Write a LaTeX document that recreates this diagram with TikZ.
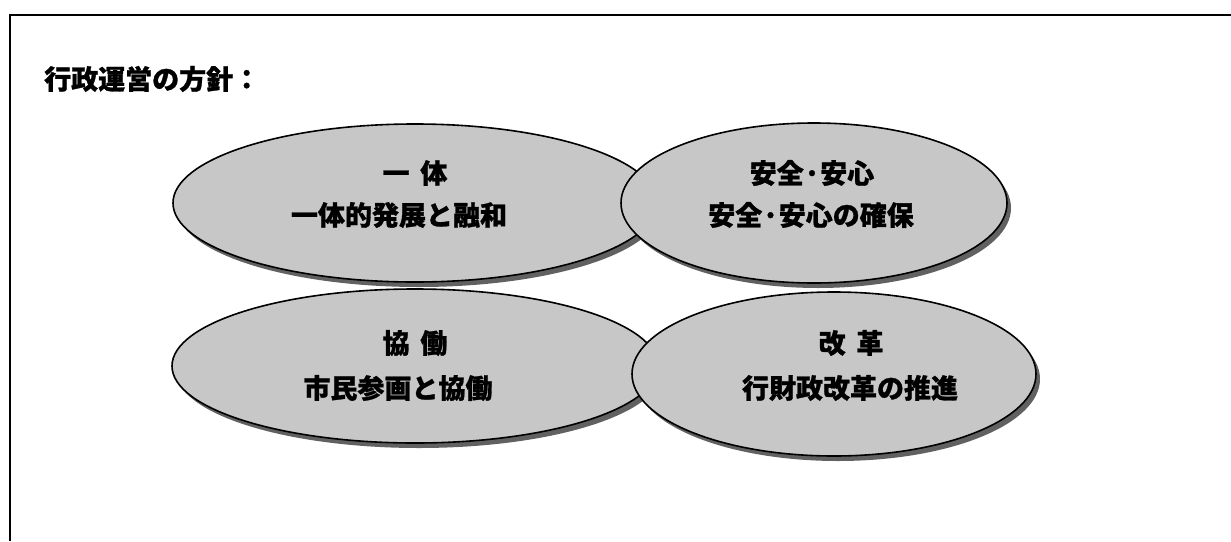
\documentclass[tikz,border=0pt]{standalone}
\usepackage{fontspec}
\newfontfamily\jp{Noto Sans CJK JP}[BoldFeatures={FakeBold=1}]
\usetikzlibrary{shapes.geometric}
\tikzset{
  ell/.style={ellipse, draw=black, line width=1.6pt, fill=black!22, inner sep=0pt},
  shad/.style={ellipse, fill=black!62, inner sep=0pt},
  lbl/.style={font=\jp\bfseries\fontsize{27}{32}\selectfont, inner sep=0pt},
  ttl/.style={font=\jp\bfseries\fontsize{27}{32}\selectfont, inner sep=0pt},
  frame/.style={line width=2pt, draw=black}
}
\begin{document}
\begin{tikzpicture}[x=1pt,y=-1pt]
\useasboundingbox (0,0) rectangle (1231,541);
\coordinate (fb) at (10,541);
\coordinate (fc) at (10,15);
\coordinate (fr) at (1231,15);
\draw[frame] (fb) -- (fc) -- (fr);
\node[ttl, anchor=west] (title) at (44,79) {行政運営の方針：};
% top-left
\node[shad, minimum width=484pt, minimum height=158pt] (tls) at (419,208) {};
\node[ell, minimum width=484pt, minimum height=158pt] (tl) at (415,203) {};
\node[lbl] (tl1) at (415,173) {一\hspace{0.4em}体};
\node[lbl] (tl2) at (399,215) {一体的発展と融和};
% top-right
\node[shad, minimum width=386pt, minimum height=160pt] (trs) at (818,208) {};
\node[ell, minimum width=386pt, minimum height=160pt] (tr) at (814,203) {};
\node[lbl] (tr1) at (812,173) {安全·安心};
\node[lbl] (tr2) at (811,215) {安全·安心の確保};
% bottom-left
\node[shad, minimum width=486pt, minimum height=154pt] (bls) at (419,371) {};
\node[ell, minimum width=486pt, minimum height=154pt] (bl) at (415,366) {};
\node[lbl] (bl1) at (415,343) {協\hspace{0.4em}働};
\node[lbl] (bl2) at (398,388) {市民参画と協働};
% bottom-right
\node[shad, minimum width=404pt, minimum height=164pt] (brs) at (838,379) {};
\node[ell, minimum width=404pt, minimum height=164pt] (br) at (834,374) {};
\node[lbl] (br1) at (851,343) {改\hspace{0.4em}革};
\node[lbl] (br2) at (850,388) {行財政改革の推進};
\end{tikzpicture}
\end{document}
